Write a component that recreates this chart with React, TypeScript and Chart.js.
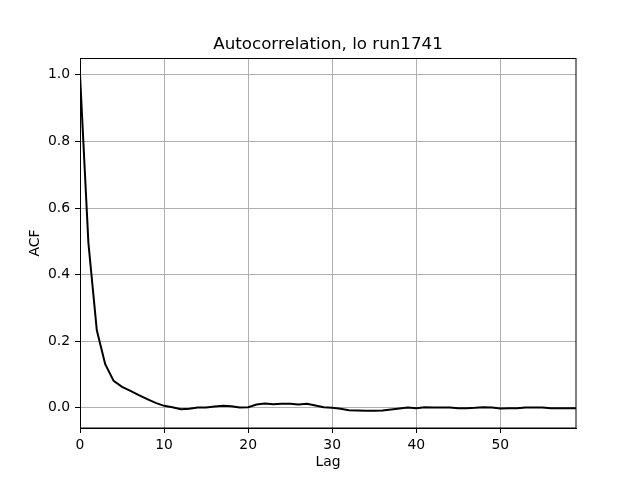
import React, { useEffect, useRef } from "react";
import { Chart, registerables } from "chart.js";

Chart.register(...registerables);

const TITLE = "Autocorrelation, lo run1741";
const X_LABEL = "Lag";
const Y_LABEL = "ACF";

const lags: number[] = Array.from({ length: 60 }, (_, i) => i);
const acf: number[] = [
  1.0, 0.495, 0.233, 0.131, 0.081, 0.063, 0.051, 0.038, 0.026, 0.015,
  0.006, 0.002, -0.004, -0.003, 0.001, 0.001, 0.004, 0.006, 0.005, 0.001,
  0.002, 0.01, 0.013, 0.011, 0.012, 0.012, 0.01, 0.012, 0.007, 0.002,
  0.0, -0.003, -0.007, -0.008, -0.009, -0.009, -0.008, -0.005, -0.002, 0.001,
  -0.001, 0.002, 0.001, 0.001, 0.001, -0.001, -0.001, 0.0, 0.002, 0.001,
  -0.002, -0.001, -0.001, 0.001, 0.001, 0.001, -0.001, -0.001, -0.001, -0.001,
];
const xTicks: number[] = [0, 10, 20, 30, 40, 50];
const yTicks: number[] = [0.0, 0.2, 0.4, 0.6, 0.8, 1.0];

const FONT = "'DejaVu Sans', sans-serif";
const TICK_SIZE = 13.9;
const TITLE_SIZE = 16.7;

const framePlugin = {
  id: "frameAndTitle",
  afterDraw(chart: any) {
    const { ctx, chartArea } = chart;
    const { left, right, top, bottom } = chartArea;
    ctx.save();
    ctx.strokeStyle = "#000";
    ctx.lineWidth = 1;
    ctx.strokeRect(left + 0.5, top + 0.5, right - left - 0.5, bottom - top - 0.5);
    ctx.fillStyle = "#000";
    ctx.font = `${TITLE_SIZE}px ${FONT}`;
    ctx.textAlign = "center";
    ctx.textBaseline = "alphabetic";
    ctx.fillText(TITLE, (left + right) / 2, 49);
    ctx.restore();
  },
};

export default function App() {
  const ref = useRef<HTMLCanvasElement>(null);
  useEffect(() => {
    document.body.style.margin = "0";
    const chart = new Chart(ref.current!, {
      type: "line",
      data: {
        datasets: [
          {
            data: lags.map((x, i) => ({ x, y: acf[i] })),
            borderColor: "#000",
            borderWidth: 2,
            pointRadius: 0,
            tension: 0,
            fill: false,
          },
        ],
      },
      options: {
        animation: false,
        responsive: false,
        maintainAspectRatio: false,
        layout: { padding: { top: 58, right: 64, left: 0, bottom: 0 } },
        plugins: { legend: { display: false }, title: { display: false }, tooltip: { enabled: false } },
        scales: {
          x: {
            type: "linear",
            min: 0,
            max: 59,
            afterFit: (s: any) => {
              s.height = 52;
            },
            afterBuildTicks: (s: any) => {
              s.ticks = xTicks.map((v) => ({ value: v }));
            },
            ticks: {
              color: "#000",
              font: { family: FONT, size: TICK_SIZE },
              padding: 4,
              maxRotation: 0,
              callback: (v: any) => String(v),
            },
            grid: { color: "#b0b0b0", lineWidth: 1, tickLength: 5, tickColor: "#000" },
            border: { display: true, color: "#000" },
            title: {
              display: true,
              text: X_LABEL,
              color: "#000",
              font: { family: FONT, size: TICK_SIZE },
              padding: { top: 0, bottom: 9 },
            },
          },
          y: {
            type: "linear",
            min: -0.0605,
            max: 1.0505,
            afterFit: (s: any) => {
              s.width = 80;
            },
            afterBuildTicks: (s: any) => {
              s.ticks = yTicks.map((v) => ({ value: v }));
            },
            ticks: {
              color: "#000",
              font: { family: FONT, size: TICK_SIZE },
              padding: 5,
              callback: (v: any) => Number(v).toFixed(1),
            },
            grid: { color: "#b0b0b0", lineWidth: 1, tickLength: 5, tickColor: "#000" },
            border: { display: true, color: "#000" },
            title: {
              display: true,
              text: Y_LABEL,
              color: "#000",
              font: { family: FONT, size: TICK_SIZE },
              padding: { top: 27, bottom: 0 },
            },
          },
        },
      },
      plugins: [framePlugin],
    });
    return () => chart.destroy();
  }, []);
  return (
    <div style={{ width: 640, height: 480, background: "#fff" }}>
      <canvas ref={ref} width={640} height={480} style={{ display: "block" }} />
    </div>
  );
}
